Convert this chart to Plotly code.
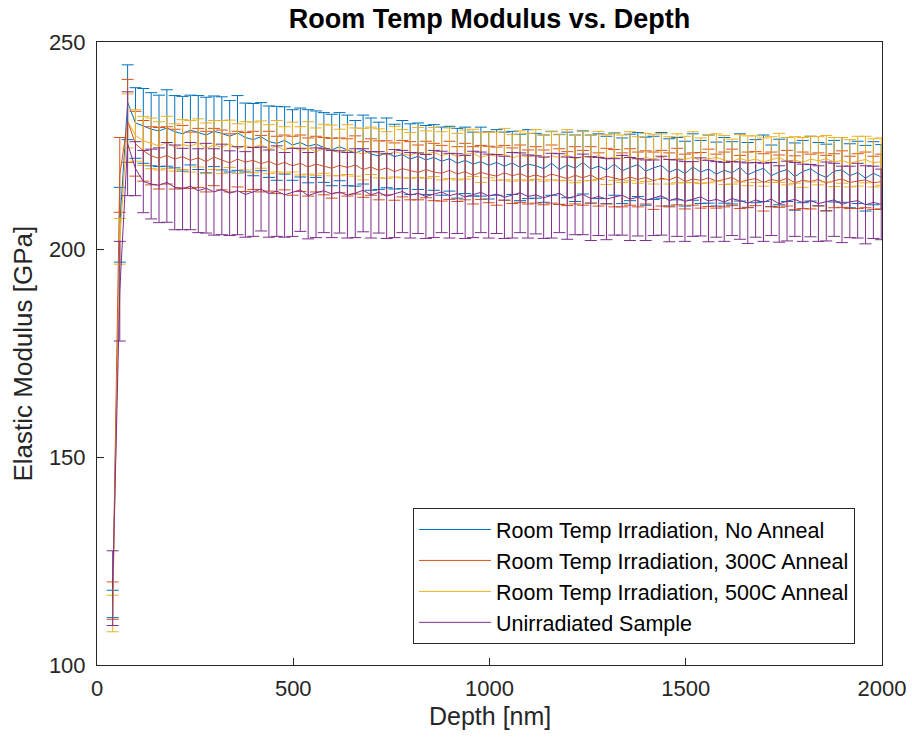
import plotly.graph_objects as go

depth_nm = [40, 58, 78, 98, 118, 138, 158, 178, 198, 218, 238, 258, 278, 298, 318, 338, 358, 378, 398,
            418, 438, 458, 478, 498, 518, 538, 558, 578, 598, 618, 638, 658, 678, 698, 718, 738, 758, 778,
            798, 818, 838, 858, 878, 898, 918, 938, 958, 978, 998, 1018, 1038, 1058, 1078, 1098, 1118,
            1138, 1158, 1178, 1198, 1218, 1238, 1258, 1278, 1298, 1318, 1338, 1358, 1378, 1398, 1418,
            1438, 1458, 1478, 1498, 1518, 1538, 1558, 1578, 1598, 1618, 1638, 1658, 1678, 1698, 1718,
            1738, 1758, 1778, 1798, 1818, 1838, 1858, 1878, 1898, 1918, 1938, 1958, 1978, 1998]

no_anneal = [114.7, 206.0, 235.5, 230.5, 229.8, 229.0,
             228.6, 229.3, 228.4, 227.9, 228.8, 228.2, 227.6, 228.5, 228.0, 227.3, 228.1, 227.0,
             226.5, 227.2, 226.0, 225.6, 226.3, 225.2, 225.8, 224.9, 225.4, 224.6, 224.0, 224.8,
             223.9, 223.2, 224.1, 223.0, 222.6, 223.3, 222.4, 222.9, 221.8, 222.5, 221.6, 222.2,
             221.3, 221.9, 220.8, 221.5, 220.6, 221.2, 220.3, 221.0, 220.1, 220.9, 219.8, 220.6,
             220.2, 219.5, 220.8, 219.3, 220.4, 219.6, 221.0, 219.4, 220.1, 219.2, 220.6, 219.0,
             219.8, 220.5, 218.9, 219.7, 220.3, 218.6, 219.5, 218.3, 219.9, 218.7, 219.4, 218.2,
             219.1, 218.5, 219.8, 218.0, 218.9, 219.6, 217.8, 218.7, 219.3, 217.6, 218.8, 219.5,
             218.2, 217.4, 218.9, 219.2, 217.8, 218.6, 217.2, 218.4, 217.5]
no_anneal_err = [3.3, 9.0, 9.0,
                 8.5, 9.0, 8.8, 8.6, 9.2, 8.7, 9.0, 8.4, 8.9, 9.1, 8.5, 8.8, 8.6, 9.0, 8.3,
                 8.7, 8.2, 8.6, 8.9, 8.1, 8.5, 8.3, 8.8, 8.0, 8.4, 8.6, 8.2, 8.5, 7.9, 8.3, 8.7, 8.1, 8.4, 7.8, 8.2, 8.5, 8.0, 8.3, 7.9,
                 8.2, 7.8, 8.4, 8.0, 7.7, 8.3, 8.1, 7.9, 8.2, 7.6, 8.0, 8.3, 7.8, 8.1, 7.7, 8.4, 7.9, 8.0, 7.6, 8.2, 7.8, 8.1, 7.5, 7.9,
                 8.0, 7.7, 8.2, 7.6, 7.9, 8.1, 7.5, 7.8, 8.0, 7.6, 8.2, 7.7, 7.9, 7.5, 8.1, 7.8, 7.6, 8.0, 7.4, 7.9, 7.7, 8.1, 7.5, 7.8,
                 7.6, 8.0, 7.4, 7.8, 7.7, 7.5, 7.9, 7.6, 7.8]

anneal_300 = [115.5, 218.0, 231.0, 225.5, 223.8, 222.6,
              222.0, 222.7, 221.8, 222.4, 221.5, 222.1, 221.2, 222.3, 221.6, 220.9, 221.8, 221.1,
              221.5, 220.7, 221.3, 220.4, 221.0, 220.2, 220.8, 219.9, 220.6, 220.1, 219.6, 220.3,
              219.8, 220.4, 219.3, 219.9, 219.1, 219.7, 218.8, 219.5, 219.0, 218.6, 219.3, 218.7,
              218.4, 219.1, 218.2, 218.8, 217.9, 218.6, 218.1, 217.7, 218.5, 217.8, 218.3, 217.5,
              218.0, 217.4, 218.2, 217.6, 217.1, 217.9, 217.3, 218.0, 216.9, 217.7, 217.2, 216.8,
              217.5, 216.9, 217.4, 216.6, 217.2, 216.8, 217.6, 216.4, 217.0, 216.7, 217.3, 216.5,
              216.9, 217.4, 216.3, 216.8, 217.1, 216.2, 216.9, 216.5, 217.2, 216.1, 216.7, 216.4,
              216.9, 216.0, 216.6, 217.0, 216.2, 216.5, 216.8, 216.1, 216.4]
anneal_300_err = [4.5, 9.0, 10.0,
                  7.8, 7.3, 7.0, 7.4, 6.9, 7.2, 7.5, 6.8, 7.1, 7.3, 6.9, 7.2, 7.0, 6.7, 7.1,
                  7.0, 6.8, 7.2, 6.9, 6.6, 7.1, 6.8, 7.0, 6.7, 6.9, 7.2, 6.6, 6.9, 7.0, 6.7, 6.8, 7.1, 6.5, 6.9, 6.8, 7.0, 6.6, 6.8, 6.9,
                  6.7, 7.0, 6.6, 6.8, 6.9, 6.5, 6.8, 7.0, 6.6, 6.7, 6.9, 6.5, 6.8, 6.6, 7.0, 6.7, 6.5, 6.9, 6.6, 6.8, 6.4, 6.7, 6.9, 6.5,
                  6.8, 6.6, 6.4, 6.9, 6.7, 6.5, 6.8, 6.6, 6.3, 6.7, 6.9, 6.5, 6.6, 6.8, 6.4, 6.7, 6.5, 6.9, 6.6, 6.3, 6.7, 6.5, 6.8, 6.6,
                  6.4, 6.7, 6.5, 6.8, 6.3, 6.6, 6.7, 6.4, 6.6]

anneal_500 = [112.4, 202.0, 231.0, 227.5, 226.2, 225.6,
              225.0, 225.8, 224.6, 225.3, 224.9, 225.7, 224.4, 225.2, 224.7, 225.5, 224.3, 225.0,
              224.6, 225.3, 224.2, 224.9, 224.0, 224.7, 223.8, 224.5, 223.6, 224.3, 223.9, 223.4,
              224.1, 223.5, 223.0, 223.8, 223.2, 222.8, 223.6, 223.1, 222.7, 223.4, 222.9, 223.5,
              222.6, 223.2, 222.4, 222.9, 223.3, 222.2, 222.8, 222.5, 223.0, 222.1, 222.7, 222.3,
              222.9, 222.0, 222.6, 222.2, 222.8, 221.8, 222.5, 222.1, 222.7, 221.7, 222.3, 221.9,
              222.5, 221.6, 222.2, 221.8, 222.4, 221.5, 222.0, 221.7, 222.3, 221.4, 221.9, 222.2,
              221.6, 221.2, 222.0, 221.4, 221.8, 221.1, 221.7, 222.1, 221.3, 221.6, 221.0, 221.8,
              221.4, 221.9, 221.1, 221.5, 220.8, 221.3, 221.7, 220.9, 221.2]
anneal_500_err = [4.4, 5.5, 6.5,
                  6.2, 5.9, 6.1, 5.8, 6.3, 5.7, 6.0, 6.2, 5.8, 6.1, 5.9, 6.4, 5.7, 6.0, 5.8,
                  6.1, 5.7, 5.9, 6.2, 5.6, 6.0, 5.8, 6.3, 5.7, 5.9, 6.1, 5.6, 6.0, 5.8, 6.2, 5.7, 5.9, 5.6, 6.1, 5.8, 5.5, 6.0, 5.7, 5.9,
                  5.8, 6.1, 5.6, 5.9, 5.7, 6.0, 5.5, 5.8, 6.2, 5.6, 5.9, 5.7, 6.0, 5.5, 5.8, 5.6, 6.1, 5.7, 5.9, 5.5, 5.8, 6.0, 5.6, 5.7,
                  5.9, 5.6, 5.8, 6.0, 5.5, 5.7, 5.9, 5.6, 6.1, 5.5, 5.8, 5.7, 5.9, 5.4, 5.7, 6.0, 5.6, 5.8, 5.5, 5.9, 5.7, 5.6, 6.0, 5.5,
                  5.8, 5.6, 5.9, 5.5, 5.7, 6.0, 5.6, 5.8, 5.7]

unirradiated = [118.5, 190.0, 225.5, 219.5, 216.4, 215.8,
                215.5, 216.2, 215.0, 214.6, 215.3, 214.2, 214.8, 213.9, 214.5, 213.6, 214.2, 213.3,
                213.9, 214.6, 213.5, 214.1, 213.2, 213.8, 214.4, 213.0, 213.7, 214.2, 213.4, 213.9,
                213.1, 213.6, 214.3, 213.2, 213.8, 212.9, 213.5, 214.0, 213.1, 213.6, 212.8, 213.4,
                213.9, 213.0, 213.5, 212.7, 213.3, 213.8, 212.9, 213.4, 212.6, 213.1, 213.7, 212.8,
                213.2, 212.5, 213.0, 213.6, 212.4, 212.9, 213.3, 212.3, 212.8, 212.2, 212.7, 213.1,
                212.2, 212.6, 211.9, 212.5, 213.0, 211.8, 212.4, 211.6, 212.2, 212.7, 211.7, 212.1,
                211.5, 212.3, 211.8, 211.2, 212.0, 211.4, 212.2, 211.0, 211.7, 212.1, 211.3, 211.8,
                211.1, 211.6, 212.0, 210.9, 211.5, 211.8, 210.8, 211.4, 210.9]
unirradiated_err = [9.0, 12.0, 12.5,
                    6.5, 7.5, 8.4, 9.0, 9.6, 10.2, 9.8, 10.5, 10.1, 10.8, 10.4, 10.9, 10.2, 10.6, 10.3,
                    10.7, 10.1, 10.5, 10.9, 10.2, 10.6, 10.0, 10.4, 10.8, 10.1, 10.5, 9.9, 10.3, 10.7, 10.0, 10.4, 9.8, 10.2, 10.6, 9.9, 10.3, 9.7, 10.1, 10.5,
                    9.8, 10.2, 9.6, 10.0, 10.4, 9.7, 10.1, 9.5, 9.9, 10.3, 9.6, 10.0, 9.4, 9.8, 10.2, 9.5, 9.9, 9.3, 9.7, 10.1, 9.4, 9.8, 9.2, 9.6,
                    10.0, 9.3, 9.7, 9.1, 9.5, 9.9, 9.2, 9.6, 9.0, 9.4, 9.8, 9.1, 9.5, 8.9, 9.3, 9.7, 9.0, 9.4, 8.8, 9.2, 9.6, 8.9, 9.3, 8.7,
                    9.1, 9.5, 8.8, 9.2, 8.6, 9.0, 9.4, 8.7, 8.5]

series_names = ["Room Temp Irradiation, No Anneal", "Room Temp Irradiation, 300C Anneal",
                "Room Temp Irradiation, 500C Anneal", "Unirradiated Sample"]
series_values = [no_anneal, anneal_300, anneal_500, unirradiated]
series_errors = [no_anneal_err, anneal_300_err, anneal_500_err, unirradiated_err]
colors = ["#0072BD", "#D95319", "#EDB120", "#7E2F8E"]

x_ticks = [0, 500, 1000, 1500, 2000]
y_ticks = [100, 150, 200, 250]

FONT = "Liberation Sans, Arial, sans-serif"
AX = "#262626"

fig = go.Figure()
for name, vals, errs, col in zip(series_names, series_values, series_errors, colors):
    fig.add_trace(go.Scatter(
        x=depth_nm, y=vals, name=name, mode="lines",
        line=dict(color=col, width=1),
        error_y=dict(type="data", array=errs, visible=True, color=col, thickness=1, width=6),
    ))

axis_common = dict(showline=True, mirror=True, linecolor=AX, linewidth=1,
                   ticks="inside", ticklen=7, tickcolor=AX, tickwidth=1,
                   showgrid=False, zeroline=False, automargin=False,
                   tickfont=dict(family=FONT, size=22, color=AX))

fig.update_xaxes(range=[0, 2000], tickvals=x_ticks, ticklabelstandoff=4, **axis_common)
fig.update_yaxes(range=[100, 250], tickvals=y_ticks, ticklabelstandoff=6, **axis_common)

fig.update_layout(
    width=912, height=740,
    margin=dict(l=97, r=30, t=42, b=75, autoexpand=False),
    paper_bgcolor="white", plot_bgcolor="white",
    hovermode=False,
    title=dict(text="<b>Room Temp Modulus vs. Depth</b>", xref="paper", x=0.5, xanchor="center",
               y=0.9743, yanchor="middle",
               font=dict(family=FONT, size=27, color="black")),
    legend=dict(x=0.9656, xanchor="right", y=0.0337, yanchor="bottom",
                bgcolor="white", bordercolor=AX, borderwidth=1,
                font=dict(family=FONT, size=21.5, color="black"),
                itemwidth=72, tracegroupgap=0),
    showlegend=True,
    annotations=[
        dict(text="Depth [nm]", xref="paper", yref="paper", x=0.5, y=-0.0819,
             xanchor="center", yanchor="middle", showarrow=False,
             font=dict(family=FONT, size=25, color=AX)),
        dict(text="Elastic Modulus [GPa]", xref="paper", yref="paper", x=-0.0955, y=0.5,
             xanchor="center", yanchor="middle", showarrow=False, textangle=-90,
             font=dict(family=FONT, size=26, color=AX)),
    ],
)

fig.write_html("out.html",
               config={"displayModeBar": False, "staticPlot": True},
               post_script="document.body.style.margin='0px';document.body.style.overflow='hidden';")
